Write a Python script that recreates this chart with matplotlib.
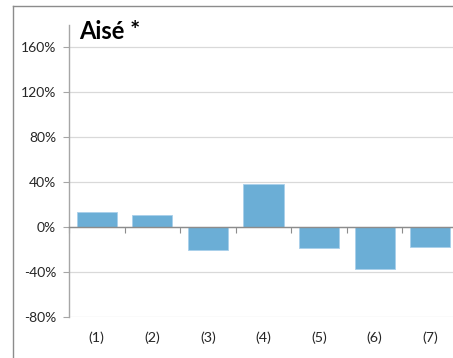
import matplotlib
matplotlib.use("Agg")
import matplotlib.pyplot as plt
from matplotlib.lines import Line2D
import matplotlib.transforms as mtransforms

plt.rcParams['font.family'] = ['Lato', 'DejaVu Sans']

title = "Aisé *"
categories = ["(1)", "(2)", "(3)", "(4)", "(5)", "(6)", "(7)"]
values = [13.4, 10.7, -20.1, 38.0, -19.0, -37.1, -17.8]
yticks = [-80, -40, 0, 40, 80, 120, 160]
ytick_labels = [f"{v}%" for v in yticks]

W, H = 453, 358
fig = plt.figure(figsize=(W / 100, H / 100), dpi=100)
fig.patch.set_facecolor("white")

# chart frame (top and left edges)
fig.add_artist(Line2D([13 / W, 13 / W], [0, (H - 6) / H], color="#8C8C8C", lw=1.0))
fig.add_artist(Line2D([13 / W, 1.0], [(H - 6) / H, (H - 6) / H], color="#8C8C8C", lw=1.0))

left, right, top, bottom = 69, 458, 25, 317
ax = fig.add_axes([left / W, (H - bottom) / H, (right - left) / W, (bottom - top) / H])

x = list(range(len(categories)))
ax.bar(x, values, width=0.72, color="#6BAED6", edgecolor="#A9CFEA", linewidth=0.6, zorder=3)

ax.set_xlim(-0.5, len(categories) - 0.5)
ax.set_ylim(-80, 180)
ax.set_yticks(yticks)
ax.set_yticklabels(ytick_labels, fontsize=10, color="#262626")
ax.grid(axis="y", color="#D9D9D9", linewidth=0.9, zorder=0)

for s in ["top", "right"]:
    ax.spines[s].set_visible(False)
ax.spines["left"].set_color("#A6A6A6")
ax.spines["left"].set_linewidth(1.0)
ax.spines["left"].set_zorder(4)

# category axis drawn along the zero line
ax.spines["bottom"].set_position(("data", 0))
ax.spines["bottom"].set_color("#8C8C8C")
ax.spines["bottom"].set_linewidth(1.0)
ax.spines["bottom"].set_zorder(4)
ax.set_xticks([i + 0.5 for i in x[:-1]] + [-0.5])
ax.tick_params(axis="x", length=4, width=0.8, color="#8C8C8C", labelbottom=False, direction="out")
ax.tick_params(axis="y", length=4.3, width=0.8, color="#A6A6A6", pad=5)

trans = mtransforms.blended_transform_factory(ax.transData, fig.transFigure)
for i, lab in enumerate(categories):
    ax.text(i, (H - 338) / H, lab, transform=trans, ha="center", va="center",
            fontsize=10.3, color="#262626", clip_on=False)

fig.text(79 / W, (H - 39) / H, title, fontsize=17, fontweight="bold",
         ha="left", va="baseline", color="black")

fig.savefig("out.png", dpi=100, facecolor="white")
